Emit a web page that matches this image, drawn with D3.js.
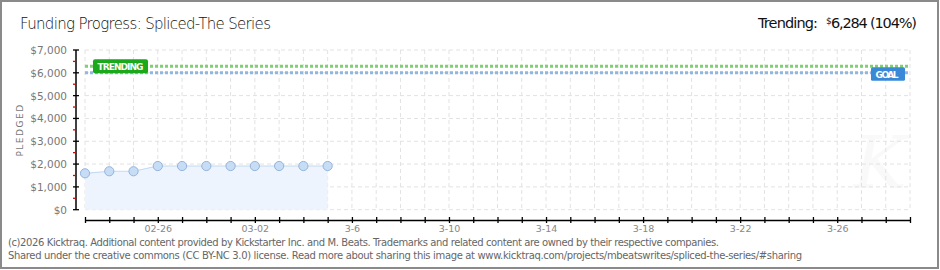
<!DOCTYPE html>
<html>
<head>
<meta charset="utf-8">
<script src="https://cdn.jsdelivr.net/npm/d3@7"></script>
<style>
  body { margin: 0; background: #fff; }
  svg { display: block; }
</style>
</head>
<body>
<div id="chart"></div>
<script>
// data
const pledgeDates = ["2026-02-23", "2026-02-24", "2026-02-25", "2026-02-26", "2026-02-27", "2026-02-28",
    "2026-03-01", "2026-03-02", "2026-03-03", "2026-03-04", "2026-03-05"]
const pledged = [1595, 1685, 1685, 1915, 1915, 1915, 1915, 1915, 1915, 1915, 1915]
const goal = 6000
const trending = 6284
const yTicks = [0, 1000, 2000, 3000, 4000, 5000, 6000, 7000]
const xTickLabels = { "2026-02-26": "02-26", "2026-03-02": "03-02", "2026-03-06": "3-6", "2026-03-10": "3-10",
    "2026-03-14": "3-14", "2026-03-18": "3-18", "2026-03-22": "3-22", "2026-03-26": "3-26" }
const startDate = "2026-02-23", endDate = "2026-03-29"

const W = 940, H = 270
const parse = d3.utcParse("%Y-%m-%d")
const fmtKey = d3.utcFormat("%Y-%m-%d")

const svg = d3.select("#chart").append("svg")
    .attr("width", W).attr("height", H)

// frame
svg.append("rect").attr("x", 1).attr("y", 1).attr("width", W - 3).attr("height", H - 3)
    .attr("fill", "#fff").attr("stroke", "#8a8a8a").attr("stroke-width", 2)

const x = d3.scaleUtc().domain([parse(startDate), parse(endDate)]).range([85, 910])
const y = d3.scaleLinear().domain([0, 7000]).range([209.7, 50])

// watermark
svg.append("text").text("K")
    .attr("x", 880).attr("y", 188).attr("text-anchor", "middle")
    .style("font-family", "DejaVu Serif").style("font-style", "italic").style("font-size", "72px")
    .attr("fill", "#f9f9f9")

// grid
const days = d3.utcDay.range(parse(startDate), d3.utcDay.offset(parse(endDate), 1))
svg.append("g").selectAll("line").data(days).join("line")
    .attr("x1", d => x(d)).attr("x2", d => x(d)).attr("y1", y(7000)).attr("y2", y(0))
    .attr("stroke", "#e2e2e2").attr("stroke-dasharray", "4,3")
svg.append("g").selectAll("line").data(yTicks).join("line")
    .attr("x1", x(parse(startDate))).attr("x2", x(parse(endDate))).attr("y1", d => y(d)).attr("y2", d => y(d))
    .attr("stroke", "#e2e2e2").attr("stroke-dasharray", "4,3")

// pledged area + line + points
const pts = pledgeDates.map((d, i) => ({ date: parse(d), value: pledged[i] }))
svg.append("path").datum(pts)
    .attr("fill", "#edf4fd")
    .attr("d", d3.area().x(d => x(d.date)).y0(y(0)).y1(d => y(d.value)))
svg.append("path").datum(pts)
    .attr("fill", "none").attr("stroke", "#c2daf3").attr("stroke-width", 1.2)
    .attr("d", d3.line().x(d => x(d.date)).y(d => y(d.value)))

// goal / trending lines
svg.append("line").attr("x1", x(parse(startDate))).attr("x2", x(parse(endDate)))
    .attr("y1", y(goal)).attr("y2", y(goal))
    .attr("stroke", "#8fb6e4").attr("stroke-width", 3).attr("stroke-dasharray", "3,2")
svg.append("line").attr("x1", x(parse(startDate))).attr("x2", x(parse(endDate)))
    .attr("y1", y(trending)).attr("y2", y(trending))
    .attr("stroke", "#7fd072").attr("stroke-width", 3).attr("stroke-dasharray", "3,2")

svg.append("g").selectAll("circle").data(pts).join("circle")
    .attr("cx", d => x(d.date)).attr("cy", d => y(d.value)).attr("r", 4.6)
    .attr("fill", "#c7ddf6").attr("stroke", "#94b4dc").attr("stroke-width", 1)

// labels on lines
const tr = svg.append("g").attr("transform", `translate(${x(parse(startDate)) + 8}, ${y(trending) - 7})`)
tr.append("rect").attr("width", 55).attr("height", 14).attr("rx", 2).attr("fill", "#1ba81b")
tr.append("text").text("TRENDING").attr("x", 27.5).attr("y", 10.5).attr("text-anchor", "middle")
    .attr("fill", "#fff").style("font-family", "DejaVu Sans").style("font-weight", "bold").style("font-size", "9px")
    .attr("textLength", 46)
const gl = svg.append("g").attr("transform", `translate(${x(parse(endDate)) - 39}, ${y(goal) - 5.5})`)
gl.append("rect").attr("width", 34).attr("height", 13.5).attr("rx", 1.5).attr("fill", "#3a89d6")
gl.append("text").text("GOAL").attr("x", 16).attr("y", 10.3).attr("text-anchor", "middle")
    .attr("fill", "#fff").style("font-family", "DejaVu Sans").style("font-weight", "bold").style("font-size", "9px")
    .attr("textLength", 23)

// y axis
svg.append("line").attr("x1", 76).attr("x2", 76).attr("y1", y(7000)).attr("y2", y(0))
    .attr("stroke", "#000").attr("stroke-width", 1.5)
svg.append("g").selectAll("line").data(yTicks).join("line")
    .attr("x1", 73).attr("x2", 79).attr("y1", d => y(d)).attr("y2", d => y(d))
    .attr("stroke", "#000").attr("stroke-width", 1.3)
svg.append("g").selectAll("line").data(yTicks.slice(1)).join("line")
    .attr("x1", 73).attr("x2", 76).attr("y1", d => y(d - 500)).attr("y2", d => y(d - 500))
    .attr("stroke", "#e00000").attr("stroke-width", 1.3)
svg.append("g").selectAll("text").data(yTicks).join("text")
    .text(d => "$" + d3.format(",")(d))
    .attr("x", 67).attr("y", d => y(d) + 4).attr("text-anchor", "end")
    .attr("fill", "#777").style("font-family", "DejaVu Sans").style("font-size", "10.5px")

svg.append("text").text("PLEDGED")
    .attr("transform", "translate(23, 130) rotate(-90)").attr("text-anchor", "middle")
    .attr("fill", "#777").style("font-family", "DejaVu Sans").style("font-size", "9px")
    .style("letter-spacing", "1.5px")

// x axis
const xAxis = svg.append("g").attr("transform", "translate(0, 220)")
    .call(d3.axisBottom(x).tickValues(days).tickSize(3).tickSizeOuter(0)
        .tickFormat(d => xTickLabels[fmtKey(d)] || ""))
xAxis.select(".domain").attr("stroke", "#000").attr("stroke-width", 1.6)
xAxis.selectAll(".tick line").attr("y1", -3).attr("y2", 3).attr("stroke-width", 1.3)
xAxis.selectAll(".tick text").attr("y", 5).attr("fill", "#888")
    .style("font-family", "DejaVu Sans").style("font-size", "9.5px")

// titles
svg.append("text").text("Funding Progress: Spliced-The Series")
    .attr("x", 20).attr("y", 29).attr("fill", "#111")
    .style("font-family", "DejaVu Sans").style("font-weight", "300").style("font-size", "15px")
    .attr("textLength", 251)
svg.append("text").text("Trending:")
    .attr("x", 758).attr("y", 28).attr("fill", "#111")
    .style("font-family", "DejaVu Sans").style("font-size", "14.5px").attr("textLength", 60)
svg.append("text").text("$")
    .attr("x", 826).attr("y", 24).attr("fill", "#111")
    .style("font-family", "DejaVu Sans").style("font-size", "9px")
svg.append("text").text(d3.format(",")(trending) + " (104%)")
    .attr("x", 917).attr("y", 28).attr("text-anchor", "end").attr("fill", "#111")
    .style("font-family", "DejaVu Sans").style("font-size", "14.5px").attr("textLength", 86)

// footer
svg.append("text").text("(c)2026 Kicktraq. Additional content provided by Kickstarter Inc. and M. Beats. Trademarks and related content are owned by their respective companies.")
    .attr("x", 8).attr("y", 246).attr("fill", "#666")
    .style("font-family", "DejaVu Sans").style("font-size", "10px").attr("textLength", 711)
svg.append("text").text("Shared under the creative commons (CC BY-NC 3.0) license. Read more about sharing this image at www.kicktraq.com/projects/mbeatswrites/spliced-the-series/#sharing")
    .attr("x", 8).attr("y", 259).attr("fill", "#666")
    .style("font-family", "DejaVu Sans").style("font-size", "10px").attr("textLength", 794)
</script>
</body>
</html>
